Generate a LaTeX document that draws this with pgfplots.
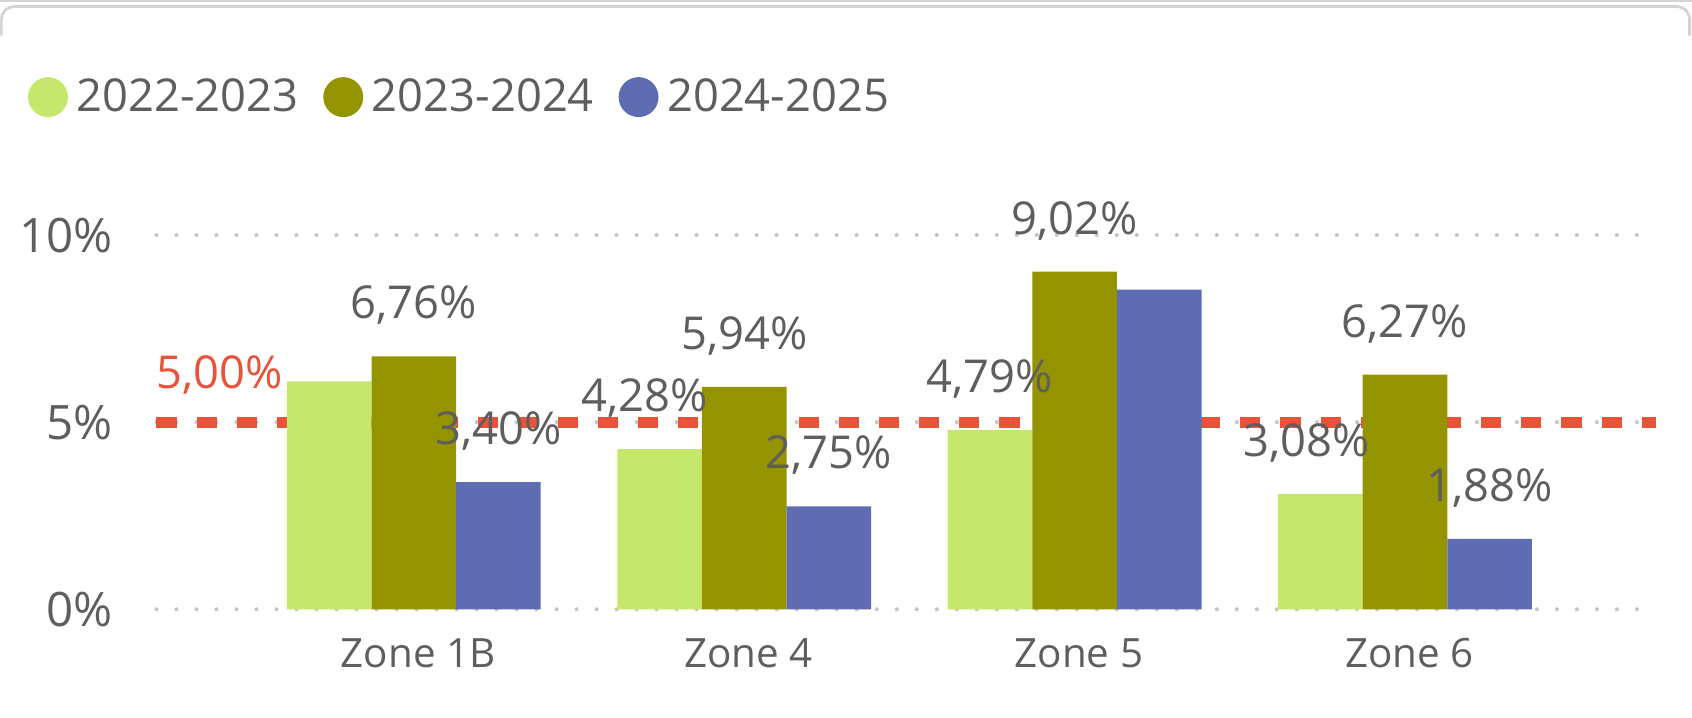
\documentclass[border=0pt]{standalone}
\usepackage{fontspec}
\setmainfont{Open Sans}
\usepackage{pgfplots}
\pgfplotsset{compat=1.18}
\usepackage{pgfplotstable}
\definecolor{cgreen}{HTML}{C5E86C}
\definecolor{colive}{HTML}{949400}
\definecolor{cblue}{HTML}{5F6CB2}
\definecolor{cred}{HTML}{E8533A}
\definecolor{ctext}{HTML}{605E5C}
\definecolor{cgrid}{HTML}{C8C6C4}
\definecolor{cborder}{HTML}{D4D4D4}
\pgfplotstableread{
x a b c
0 6.09 6.76 3.40
1 4.28 5.94 2.75
2 4.79 9.02 8.54
3 3.08 6.27 1.88
}\data
\pgfplotsset{
  circ/.style={legend image code/.code={\fill[##1] (9.25pt,0pt) circle (9.25pt);}},
  lbl/.style={forget plot, ybar, bar shift=0pt, draw=none, fill=none,
    nodes near coords={\pgfmathprintnumber{\pgfplotspointmeta}\%}, point meta=y,
    every node near coord/.append style={anchor=base, xshift=#1, yshift=17.4pt, inner sep=0pt,
      text=ctext, font=\fontsize{21}{24}\selectfont}},
}
\begin{document}
\begin{tikzpicture}
\path[use as bounding box] (0,0) rectangle (784pt,332.5pt);
\draw[cborder, line width=0.9pt] (0,332.1pt) -- (784pt,332.1pt);
\draw[cborder, line width=1.3pt, rounded corners=6pt] (0.6pt,316pt) -- (0.6pt,329.5pt) -- (782.9pt,329.5pt) -- (782.9pt,316pt);
\begin{axis}[
  at={(72.5pt,50.2pt)}, anchor=south west,
  scale only axis, width=695pt, height=173.4pt,
  xmin=-0.779, xmax=3.761, ymin=0, ymax=10,
  clip=false,
  axis line style={draw=none},
  major tick length=0pt,
  ytick={0,5,10}, yticklabels={0\%,5\%,10\%},
  xtick={0,1,2,3}, xticklabels={Zone 1B,Zone 4,Zone 5,Zone 6},
  ymajorgrids,
  grid style={cgrid, line width=1.9pt, dash pattern=on 0pt off 9.27pt, line cap=round},
  yticklabel style={anchor=east, inner sep=0pt, xshift=-20pt, text=ctext, font=\fontsize{22}{24}\selectfont},
  xticklabel style={anchor=base, inner sep=0pt, xshift=2pt, yshift=-27.2pt, text=ctext, font=\fontsize{18.7}{21}\selectfont},
  bar width=39.2pt,
  legend columns=3,
  legend cell align=left,
  legend style={draw=none, fill=none, at={(0,1)}, anchor=west, xshift=-59.5pt, yshift=63.9pt,
    inner sep=0pt, outer sep=0pt, text=ctext, font=\fontsize{21}{24}\selectfont,
    nodes={inner sep=0pt},
    /tikz/every odd column/.append style={column sep=4pt},
    /tikz/every even column/.append style={column sep=11.5pt}},
  /pgf/number format/use comma,
  /pgf/number format/fixed,
  /pgf/number format/fixed zerofill,
  /pgf/number format/precision=2,
  /pgf/number format/assume math mode=true,
]
\addplot[forget plot, cred, line width=5pt, dash pattern=on 9.3pt off 9.3pt, mark=none] coordinates {(-0.779,5) (3.761,5)};
\addplot[ybar, bar shift=-39.2pt, fill=cgreen, draw=none, circ] table[x=x,y=a]{\data};
\addlegendentry{2022-2023}
\addplot[ybar, bar shift=0pt, fill=colive, draw=none, circ] table[x=x,y=b]{\data};
\addlegendentry{2023-2024}
\addplot[ybar, bar shift=39.2pt, fill=cblue, draw=none, circ] table[x=x,y=c]{\data};
\addlegendentry{2024-2025}
\addplot[lbl=-46pt, restrict x to domain=0.5:1.5] table[x=x,y=a]{\data};
\addplot[lbl=-39.2pt, restrict x to domain=1.5:2.5] table[x=x,y=a]{\data};
\addplot[lbl=-45.5pt, restrict x to domain=2.5:3.5] table[x=x,y=a]{\data};
\addplot[lbl=0pt] table[x=x,y=b]{\data};
\addplot[lbl=39.2pt, skip coords between index={2}{3}] table[x=x,y=c]{\data};
\node[anchor=base west, inner sep=0pt, text=cred, font=\fontsize{21}{24}\selectfont] at (axis cs:-0.779,5) [yshift=15.5pt] {5,00\%};
\end{axis}
\end{tikzpicture}
\end{document}
